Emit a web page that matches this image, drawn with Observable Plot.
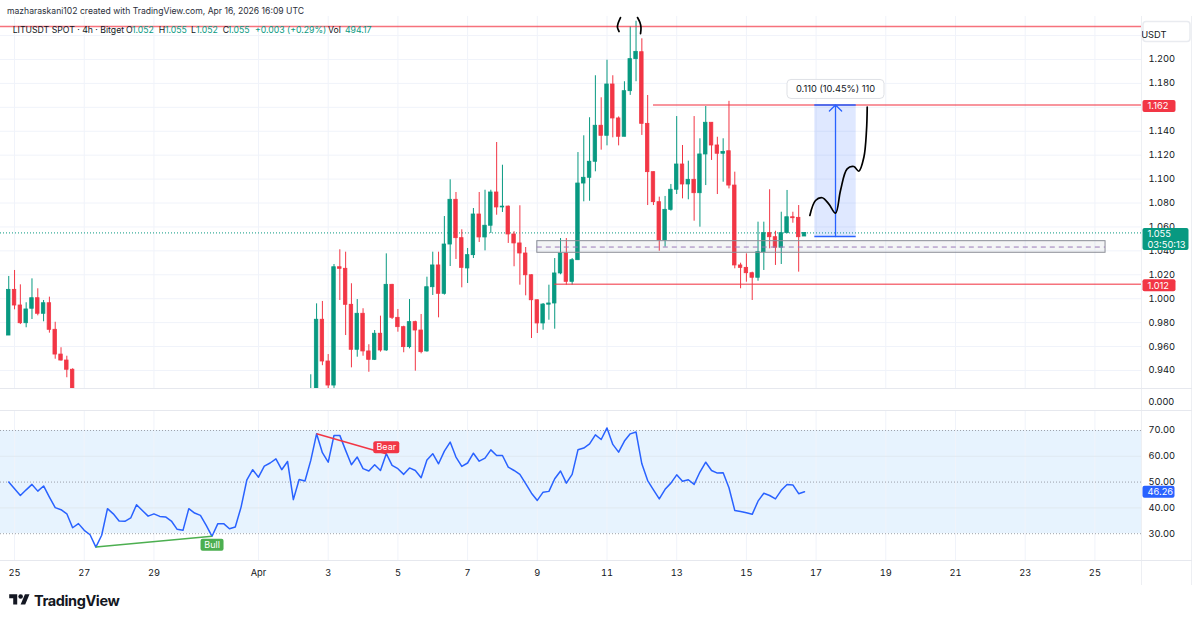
<!DOCTYPE html>
<html><head><meta charset="utf-8">
<script src="https://cdn.jsdelivr.net/npm/d3@7"></script>
<script src="https://cdn.jsdelivr.net/npm/@observablehq/plot@0.6"></script>
<style>
html,body{margin:0;padding:0;background:#fff;}
#root{position:relative;width:1199px;height:622px;overflow:hidden;background:#fff;font-family:Inter,"Noto Sans",sans-serif;color:#131722;}
.abs{position:absolute;white-space:nowrap;}
.sep{position:absolute;background:#e6e8ee;}
</style></head><body><div id="root"></div>
<script>
// ---------------- DATA ----------------
const segAStart = "2026-03-24T20:00:00Z";
const openA  = [0.9692,1.0074,0.9943,0.9795,0.9916,1.0004,0.9874,0.9962,0.9740,0.9533,0.9483,0.9406];
const highA  = [1.0186,1.0236,1.0116,0.9966,1.0166,1.0083,0.9985,1.0013,0.9803,0.9590,0.9519,0.9414];
const lowA   = [0.9692,0.9907,0.9784,0.9757,0.9826,0.9857,0.9807,0.9712,0.9494,0.9478,0.9339,0.9100];
const closeA = [1.0074,0.9943,0.9795,0.9910,1.0004,0.9874,0.9962,0.9740,0.9533,0.9483,0.9406,0.9180];

const segBStart = "2026-04-02T12:00:00Z";
const openB = [
0.9050,0.9150,0.9824,0.9475,0.9274,1.0263,1.0250,0.9949,0.9573,0.9874,
0.9559,0.9489,0.9707,0.9567,1.0116,0.9840,0.9762,0.9595,0.9804,0.9734,
0.9559,1.0096,1.0278,1.0041,1.0453,1.0827,1.0506,1.0253,1.0364,1.0704,
1.0512,1.0610,1.0888,1.0763,1.0770,1.0537,1.0462,1.0378,1.0196,0.9987,
0.9793,0.9950,0.9960,1.0211,1.0378,1.0141,1.0322,1.0963,1.1011,1.1145,
1.1446,1.1362,1.1791,1.1507,1.1354,1.1735,1.2003,1.2061,1.1462,1.1058,
1.0807,1.0487,1.0743,1.0911,1.1122,1.0955,1.0994,1.0882,1.1206,1.1471,
1.1281,1.1212,1.1233,1.0946,1.0278,1.0258,1.0213,1.0175,1.0389,1.0548,
1.0514,1.0426,1.0548,1.0681,1.0676,1.0520];
const highB = [
0.9364,0.9957,0.9977,0.9533,1.0286,1.0409,1.0389,1.0125,0.9993,0.9916,
0.9615,0.9734,0.9854,1.0375,1.0120,0.9910,0.9770,0.9993,0.9812,0.9868,
1.0180,1.0389,1.0389,1.0687,1.0994,1.0888,1.0576,1.0420,1.0754,1.0888,
1.0907,1.0907,1.1306,1.1116,1.0775,1.0560,1.0777,1.0428,1.0200,0.9990,
0.9960,1.0113,1.0336,1.0503,1.0503,1.0336,1.1222,1.1362,1.1513,1.1864,
1.1680,1.1994,1.1864,1.1520,1.1814,1.2273,1.2320,1.2173,1.1699,1.1060,
1.0849,1.0855,1.0955,1.1523,1.1281,1.1150,1.1523,1.1337,1.1607,1.1471,
1.1350,1.1337,1.1650,1.1058,1.0297,1.0375,1.0222,1.0640,1.0640,1.0911,
1.0564,1.0723,1.0905,1.0723,1.0779,1.0550];
const lowB = [
0.9000,0.9100,0.9440,0.9200,0.9250,0.9985,0.9692,0.9422,0.9511,0.9519,
0.9385,0.9483,0.9553,0.9560,0.9826,0.9720,0.9548,0.9581,0.9394,0.9539,
0.9553,1.0027,0.9840,1.0030,1.0269,1.0328,1.0091,1.0127,1.0336,1.0470,
1.0400,1.0545,1.0698,1.0721,1.0462,1.0267,1.0113,1.0024,0.9667,0.9709,
0.9737,0.9820,0.9745,1.0200,1.0113,1.0113,1.0322,1.0810,1.0815,1.1061,
1.1242,1.1278,1.1345,1.1278,1.1354,1.1700,1.1814,1.1365,1.0779,1.0779,
1.0397,1.0431,1.0732,1.0871,1.0835,1.0827,1.0648,1.0598,1.0946,1.1156,
1.0871,1.0974,1.0918,1.0250,1.0083,1.0138,0.9985,1.0146,1.0236,1.0417,
1.0278,1.0286,1.0543,1.0631,1.0222,1.0520];
const closeB = [
0.9150,0.9824,0.9475,0.9274,1.0263,1.0250,0.9949,0.9573,0.9874,0.9559,
0.9489,0.9707,0.9567,1.0116,0.9840,0.9762,0.9595,0.9804,0.9734,0.9553,
1.0096,1.0278,1.0041,1.0453,1.0827,1.0506,1.0258,1.0364,1.0704,1.0512,
1.0610,1.0888,1.0763,1.0770,1.0537,1.0462,1.0378,1.0196,0.9987,0.9793,
0.9951,0.9960,1.0211,1.0378,1.0141,1.0322,1.0963,1.1011,1.1145,1.1446,
1.1362,1.1791,1.1507,1.1354,1.1735,1.2003,1.2064,1.1462,1.1058,1.0807,
1.0487,1.0743,1.0911,1.1122,1.0955,1.0994,1.0882,1.1206,1.1471,1.1281,
1.1212,1.1227,1.0946,1.0278,1.0258,1.0213,1.0175,1.0389,1.0548,1.0514,
1.0426,1.0548,1.0681,1.0673,1.0514,1.0550];

const rsiStart = "2026-03-24T20:00:00Z";
const rsiValues = [
50.0,47.4,44.8,47.0,49.1,46.5,48.5,44.2,40.1,39.3,
37.7,32.3,33.9,31.3,29.6,24.8,29.4,39.7,37.7,34.9,
34.8,36.1,41.2,39.0,36.8,37.7,36.7,36.5,34.9,31.7,
31.3,39.7,38.0,37.1,33.2,29.0,33.9,33.9,31.9,32.6,
40.3,50.9,54.8,51.9,56.2,57.4,59.0,54.8,58.0,43.2,
51.0,50.4,58.4,68.7,61.4,57.7,68.1,68.1,62.3,56.7,
59.7,55.2,54.3,56.7,54.5,61.0,56.5,55.2,
53.0,55.5,54.5,51.7,58.6,61.0,57.1,62.0,65.5,59.7,
56.1,57.4,61.2,58.1,59.3,62.5,60.3,60.3,55.8,54.5,
53.0,49.4,45.7,42.9,46.1,46.4,51.3,54.3,49.6,53.0,
62.5,63.2,64.8,68.3,66.5,71.0,64.6,61.6,65.9,68.7,
69.4,57.1,50.6,47.0,43.5,47.2,49.6,52.8,50.3,50.9,
49.1,53.9,57.7,54.5,53.5,53.6,47.8,39.0,38.6,38.1,
37.5,42.6,45.7,44.8,43.5,46.8,49.1,48.9,45.5,46.26];
const bullPivots = [15, 35];   // bar indices of the bullish divergence
const bearPivots = [53, 65];   // bar indices of the bearish divergence

const tickDates  = ["2026-03-25","2026-03-27","2026-03-29","2026-04-01","2026-04-03","2026-04-05","2026-04-07","2026-04-09","2026-04-11","2026-04-13","2026-04-15","2026-04-17","2026-04-19","2026-04-21","2026-04-23","2026-04-25"];
const tickLabels = ["25","27","29","Apr","3","5","7","9","11","13","15","17","19","21","23","25"];
const priceTicks = [0.94,0.96,0.98,1.00,1.02,1.04,1.06,1.08,1.10,1.12,1.14,1.18,1.20];
const priceGrid  = [0.94,0.96,0.98,1.00,1.02,1.04,1.06,1.08,1.10,1.12,1.14,1.16,1.18,1.20,1.22];
const rsiTicks   = [30,40,50,60,70];

// drawings (time, price)
const topLevel = 1.2276;
const resistance = {price:1.162, from:"2026-04-12T08:00:00Z", label:"1.162"};
const support    = {price:1.012, from:"2026-04-09T12:00:00Z", label:"1.012"};
const zone = {from:"2026-04-09T00:00:00Z", to:"2026-04-25T07:20:00Z", low:1.0384, high:1.0481, mid:1.0432};
const range = {from:"2026-04-16T23:07:00Z", to:"2026-04-18T03:37:00Z", low:1.052, high:1.162, label:"0.110 (10.45%) 110"};
const pathHours  = [19.7,23.6,28.2,32.7,37.4,40.8,45.4,50.0,53.4,56.9,58.7,59.2]; // hours after Apr 16 00:00
const pathPrices = [1.0696,1.0821,1.0844,1.0793,1.0715,1.0905,1.1086,1.1105,1.1066,1.1183,1.1406,1.1601];
const arcLHours  = [9.3,7.6,7.2,8.3];     // hours after Apr 11 00:00
const arcLPrices = [1.2351,1.2301,1.2268,1.2234];
const arcRHours  = [21.0,22.7,23.4,23.1];
const arcRPrices = [1.2351,1.2309,1.2268,1.2217];
const lastPrice = 1.055, countdown = "03:50:13";
const header = "mazharaskani102 created with TradingView.com, Apr 16, 2026 16:09 UTC";
const legendText = ["LITUSDT SPOT · 4h · Bitget","O","1.052","H","1.055","L","1.052","C","1.055","+0.003 (+0.29%)","Vol","494.17"];

// ---------------- LAYOUT ----------------
const FONT = 'Inter, "Noto Sans", sans-serif';
const up = "#089981", down = "#f23645", red = "#f23645", blue = "#2962ff", grid = "#f0f3fa";
const HOUR = 3600e3, DAY = 864e5;
const apr1 = Date.UTC(2026,3,1), pxDay = 34.85;
const xDomain = [new Date(apr1 - 258/pxDay*DAY), new Date(apr1 + 883/pxDay*DAY)];
const tickD = tickDates.map(d => new Date(d + "T00:00:00Z"));
const labelByTime = new Map(tickD.map((d,i)=>[+d, tickLabels[i]]));

function seg(start,o,h,l,c){const t0=Date.parse(start);return o.map((v,i)=>({t:new Date(t0+i*4*HOUR),o:v,h:h[i],l:l[i],c:c[i]}));}
const candles = [...seg(segAStart,openA,highA,lowA,closeA), ...seg(segBStart,openB,highB,lowB,closeB)];
const rsiData = rsiValues.map((v,i)=>({t:new Date(Date.parse(rsiStart)+i*4*HOUR), v}));
const col = d => d.c >= d.o ? up : down;

function boxSym(w,h,r){return {draw(ctx){const x=-w/2,y=-h/2;ctx.moveTo(x+r,y);ctx.lineTo(x+w-r,y);ctx.arcTo(x+w,y,x+w,y+r,r);ctx.lineTo(x+w,y+h-r);ctx.arcTo(x+w,y+h,x+w-r,y+h,r);ctx.lineTo(x+r,y+h);ctx.arcTo(x,y+h,x,y+h-r,r);ctx.lineTo(x,y+r);ctx.arcTo(x,y,x+r,y,r);ctx.closePath();}};}
function tag(value, text, bg, w, h, dy=0){
  return [
    Plot.dot([value],{y:d=>d, frameAnchor:"right", dx:1+w/2, dy, r:1, symbol:boxSym(w,h,2), fill:bg, stroke:null}),
    Plot.text([value],{y:d=>d, frameAnchor:"right", dx:6, dy, text:()=>text, textAnchor:"start", fill:"#fff", fontSize:9.3, lineHeight:1.15})
  ];
}

const root = document.getElementById("root");
function add(el, css){el.style.cssText += css; root.appendChild(el); return el;}
function div(cls, css, txt){const e=document.createElement("div");e.className=cls;if(txt!=null)e.textContent=txt;return add(e,css);}

// header
div("abs","left:7px;top:5px;font-size:8.6px;line-height:12px;color:#2a2e39;", header);

// ----- price pane -----
const yP = [0.92492, 1.23595];
const pathData = pathHours.map((h,i)=>({t:new Date(Date.UTC(2026,3,16)+h*HOUR), p:pathPrices[i]}));
const arcL = arcLHours.map((h,i)=>({t:new Date(Date.UTC(2026,3,11)+h*HOUR), p:arcLPrices[i]}));
const arcR = arcRHours.map((h,i)=>({t:new Date(Date.UTC(2026,3,11)+h*HOUR), p:arcRPrices[i]}));
const rMid = new Date((Date.parse(range.from)+Date.parse(range.to))/2);

const price = Plot.plot({
  width:1199, height:372, marginTop:0, marginBottom:0, marginLeft:0, marginRight:58,
  x:{type:"utc", domain:xDomain, axis:null},
  y:{domain:yP, axis:null},
  style:{fontFamily:FONT, fontSize:"9.3px", color:"#131722", background:"transparent", overflow:"visible"},
  marks:[
    Plot.gridY(priceGrid,{stroke:grid, strokeOpacity:1}),
    Plot.gridX(tickD,{stroke:grid, strokeOpacity:1}),
    Plot.ruleY([lastPrice],{stroke:up, strokeDasharray:"1,2", strokeWidth:1}),
    Plot.ruleX(candles,{x:"t", y1:"l", y2:"h", stroke:col, strokeWidth:1, clip:true}),
    Plot.rect(candles,{x1:d=>new Date(+d.t-1.2*HOUR), x2:d=>new Date(+d.t+1.2*HOUR), y1:"o", y2:"c", fill:col, stroke:col, strokeWidth:0.8, clip:true}),
    // level lines
    Plot.ruleY([topLevel],{stroke:red, strokeOpacity:0.7, strokeWidth:1.5}),
    Plot.ruleY([resistance],{y:"price", x1:d=>new Date(d.from), x2:()=>xDomain[1], stroke:red, strokeOpacity:0.7, strokeWidth:1.5}),
    Plot.ruleY([support],{y:"price", x1:d=>new Date(d.from), x2:()=>xDomain[1], stroke:red, strokeOpacity:0.7, strokeWidth:1.5}),
    // zone box
    Plot.rect([zone],{x1:d=>new Date(d.from), x2:d=>new Date(d.to), y1:"low", y2:"high", fill:"#787b86", fillOpacity:0.08, stroke:"#8a8d96", strokeWidth:1}),
    Plot.ruleY([zone],{y:"mid", x1:d=>new Date(d.from), x2:d=>new Date(d.to), stroke:"#9b7bb8", strokeDasharray:"5,4", strokeWidth:1}),
    // price range
    Plot.rect([range],{x1:d=>new Date(d.from), x2:d=>new Date(d.to), y1:"low", y2:"high", fill:blue, fillOpacity:0.15}),
    Plot.ruleY([range],{y:"low", x1:d=>new Date(d.from), x2:d=>new Date(d.to), stroke:blue, strokeWidth:1.5}),
    Plot.ruleY([range],{y:"high", x1:d=>new Date(d.from), x2:d=>new Date(d.to), stroke:blue, strokeWidth:1.5}),
    Plot.arrow([range],{x1:()=>rMid, x2:()=>rMid, y1:"low", y2:"high", stroke:blue, strokeWidth:1.3, headLength:10, headAngle:90}),
    Plot.dot([range],{x:()=>rMid, y:"high", dy:-16, r:1, symbol:boxSym(97,19,4), fill:"#fff", stroke:"#dfe1e6", strokeWidth:1}),
    Plot.text([range],{x:()=>rMid, y:"high", dy:-16, text:"label", fill:"#131722", fontSize:9.3}),
    // freehand drawings
    Plot.line(pathData,{x:"t", y:"p", curve:"catmull-rom", stroke:"#000", strokeWidth:1.7}),
    Plot.line(arcL,{x:"t", y:"p", curve:"catmull-rom", stroke:"#000", strokeWidth:1.7}),
    Plot.line(arcR,{x:"t", y:"p", curve:"catmull-rom", stroke:"#000", strokeWidth:1.7}),
    // axis
    Plot.axisY(priceTicks,{anchor:"right", tickSize:0, tickPadding:7, tickFormat:d3.format(".3f"), label:null, fill:"#131722"}),
    Plot.dot([0],{frameAnchor:"top-right", dx:25, dy:15, r:1, symbol:boxSym(47,20,3), fill:"#fff", stroke:"#e9ebf0"}),
    Plot.text([0],{frameAnchor:"top-right", dx:25, dy:15, text:()=>"USDT", fill:"#131722", fontSize:9.3}),
    ...tag(resistance.price, resistance.label, red, 33, 12, 1),
    ...tag(support.price, support.label, red, 33, 12, 1),
    ...tag(lastPrice, lastPrice.toFixed(3)+"\n"+countdown, up, 46, 22, 6)
  ]
});
add(price, "position:absolute;left:0;top:16px;");

// legend
const legendLeft = [12.7,126,132,158.7,165,191,196,222.7,227.7,255,328,345];
const legendColor = ["#131722","#131722",up,"#131722",up,"#131722",up,"#131722",up,up,"#131722",up];
legendText.forEach((t,i)=>div("abs",`left:${legendLeft[i]}px;top:24px;font-size:8.7px;line-height:12px;color:${legendColor[i]};`, t));

// ----- RSI pane -----
const pivot = i => rsiData[i];
const rsi = Plot.plot({
  width:1199, height:200, marginTop:23, marginBottom:28, marginLeft:0, marginRight:58,
  x:{type:"utc", domain:xDomain, axis:null},
  y:{domain:[19.61, 77.36], axis:null},
  style:{fontFamily:FONT, fontSize:"9.3px", color:"#131722", background:"transparent", overflow:"visible"},
  marks:[
    Plot.rect([0],{y1:()=>30, y2:()=>70, fill:"#2196f3", fillOpacity:0.11}),
    Plot.gridX(tickD,{stroke:grid, strokeOpacity:1}),
    Plot.gridY([40,60],{stroke:"#dfe6ee", strokeOpacity:0.8}),
    Plot.ruleY([30,50,70],{stroke:"#9598a1", strokeDasharray:"1,2", strokeWidth:1, strokeOpacity:0.9}),
    Plot.line(rsiData,{x:"t", y:"v", stroke:"#2962ff", strokeWidth:1.5}),
    Plot.link([0],{x1:()=>pivot(bullPivots[0]).t, y1:()=>pivot(bullPivots[0]).v, x2:()=>pivot(bullPivots[1]).t, y2:()=>pivot(bullPivots[1]).v, stroke:"#4caf50", strokeWidth:1.5}),
    Plot.link([0],{x1:()=>pivot(bearPivots[0]).t, y1:()=>pivot(bearPivots[0]).v, x2:()=>pivot(bearPivots[1]).t, y2:()=>pivot(bearPivots[1]).v, stroke:red, strokeWidth:1.5}),
    Plot.dot([pivot(bullPivots[1])],{x:"t", y:"v", dy:8.5, r:1, symbol:boxSym(23,12,2), fill:"#4caf50"}),
    Plot.text([pivot(bullPivots[1])],{x:"t", y:"v", dy:8.5, text:()=>"Bull", fill:"#fff", fontSize:9}),
    Plot.dot([pivot(bearPivots[1])],{x:"t", y:"v", dy:-6.5, r:1, symbol:boxSym(26,12,2), fill:red}),
    Plot.text([pivot(bearPivots[1])],{x:"t", y:"v", dy:-6.5, text:()=>"Bear", fill:"#fff", fontSize:9}),
    Plot.axisY(rsiTicks,{anchor:"right", tickSize:0, tickPadding:7, tickFormat:d3.format(".2f"), label:null, fill:"#131722"}),
    ...tag(rsiValues[rsiValues.length-1], d3.format(".2f")(rsiValues[rsiValues.length-1]), blue, 32, 12, 0),
    Plot.text([0],{frameAnchor:"top-right", dx:7, dy:-13, text:()=>"0.000", textAnchor:"start", fill:"#131722"}),
    Plot.axisX(tickD,{anchor:"bottom", tickSize:0, tickPadding:9, tickFormat:d=>labelByTime.get(+d), label:null, fill:"#131722"})
  ]
});
add(rsi, "position:absolute;left:0;top:388px;");

// pane separators / borders
div("sep","left:0;top:388px;width:1192px;height:1px;");
div("sep","left:0;top:410px;width:1192px;height:1px;");
div("sep","left:0;top:560px;width:1192px;height:1px;");
div("sep","left:1141px;top:16px;width:1px;height:569px;opacity:0.7;");
div("sep","left:1191px;top:16px;width:1px;height:569px;opacity:0.7;");

// logo
const logo = div("abs","left:9px;top:591px;height:18px;display:flex;align-items:center;gap:4px;");
logo.innerHTML = '<svg width="21" height="16" viewBox="0 0 36 28"><path d="M14 22H7V11H0V4h14v18Z" fill="#131722"/><circle cx="20" cy="8" r="4" fill="#131722"/><path d="M28 22h-8l7.5-18h8L28 22Z" fill="#131722"/></svg>';
const lt = document.createElement("span");
lt.textContent = "TradingView";
lt.style.cssText = "font-size:14.5px;font-weight:700;letter-spacing:-0.4px;color:#131722;";
logo.appendChild(lt);
</script>
</body></html>
